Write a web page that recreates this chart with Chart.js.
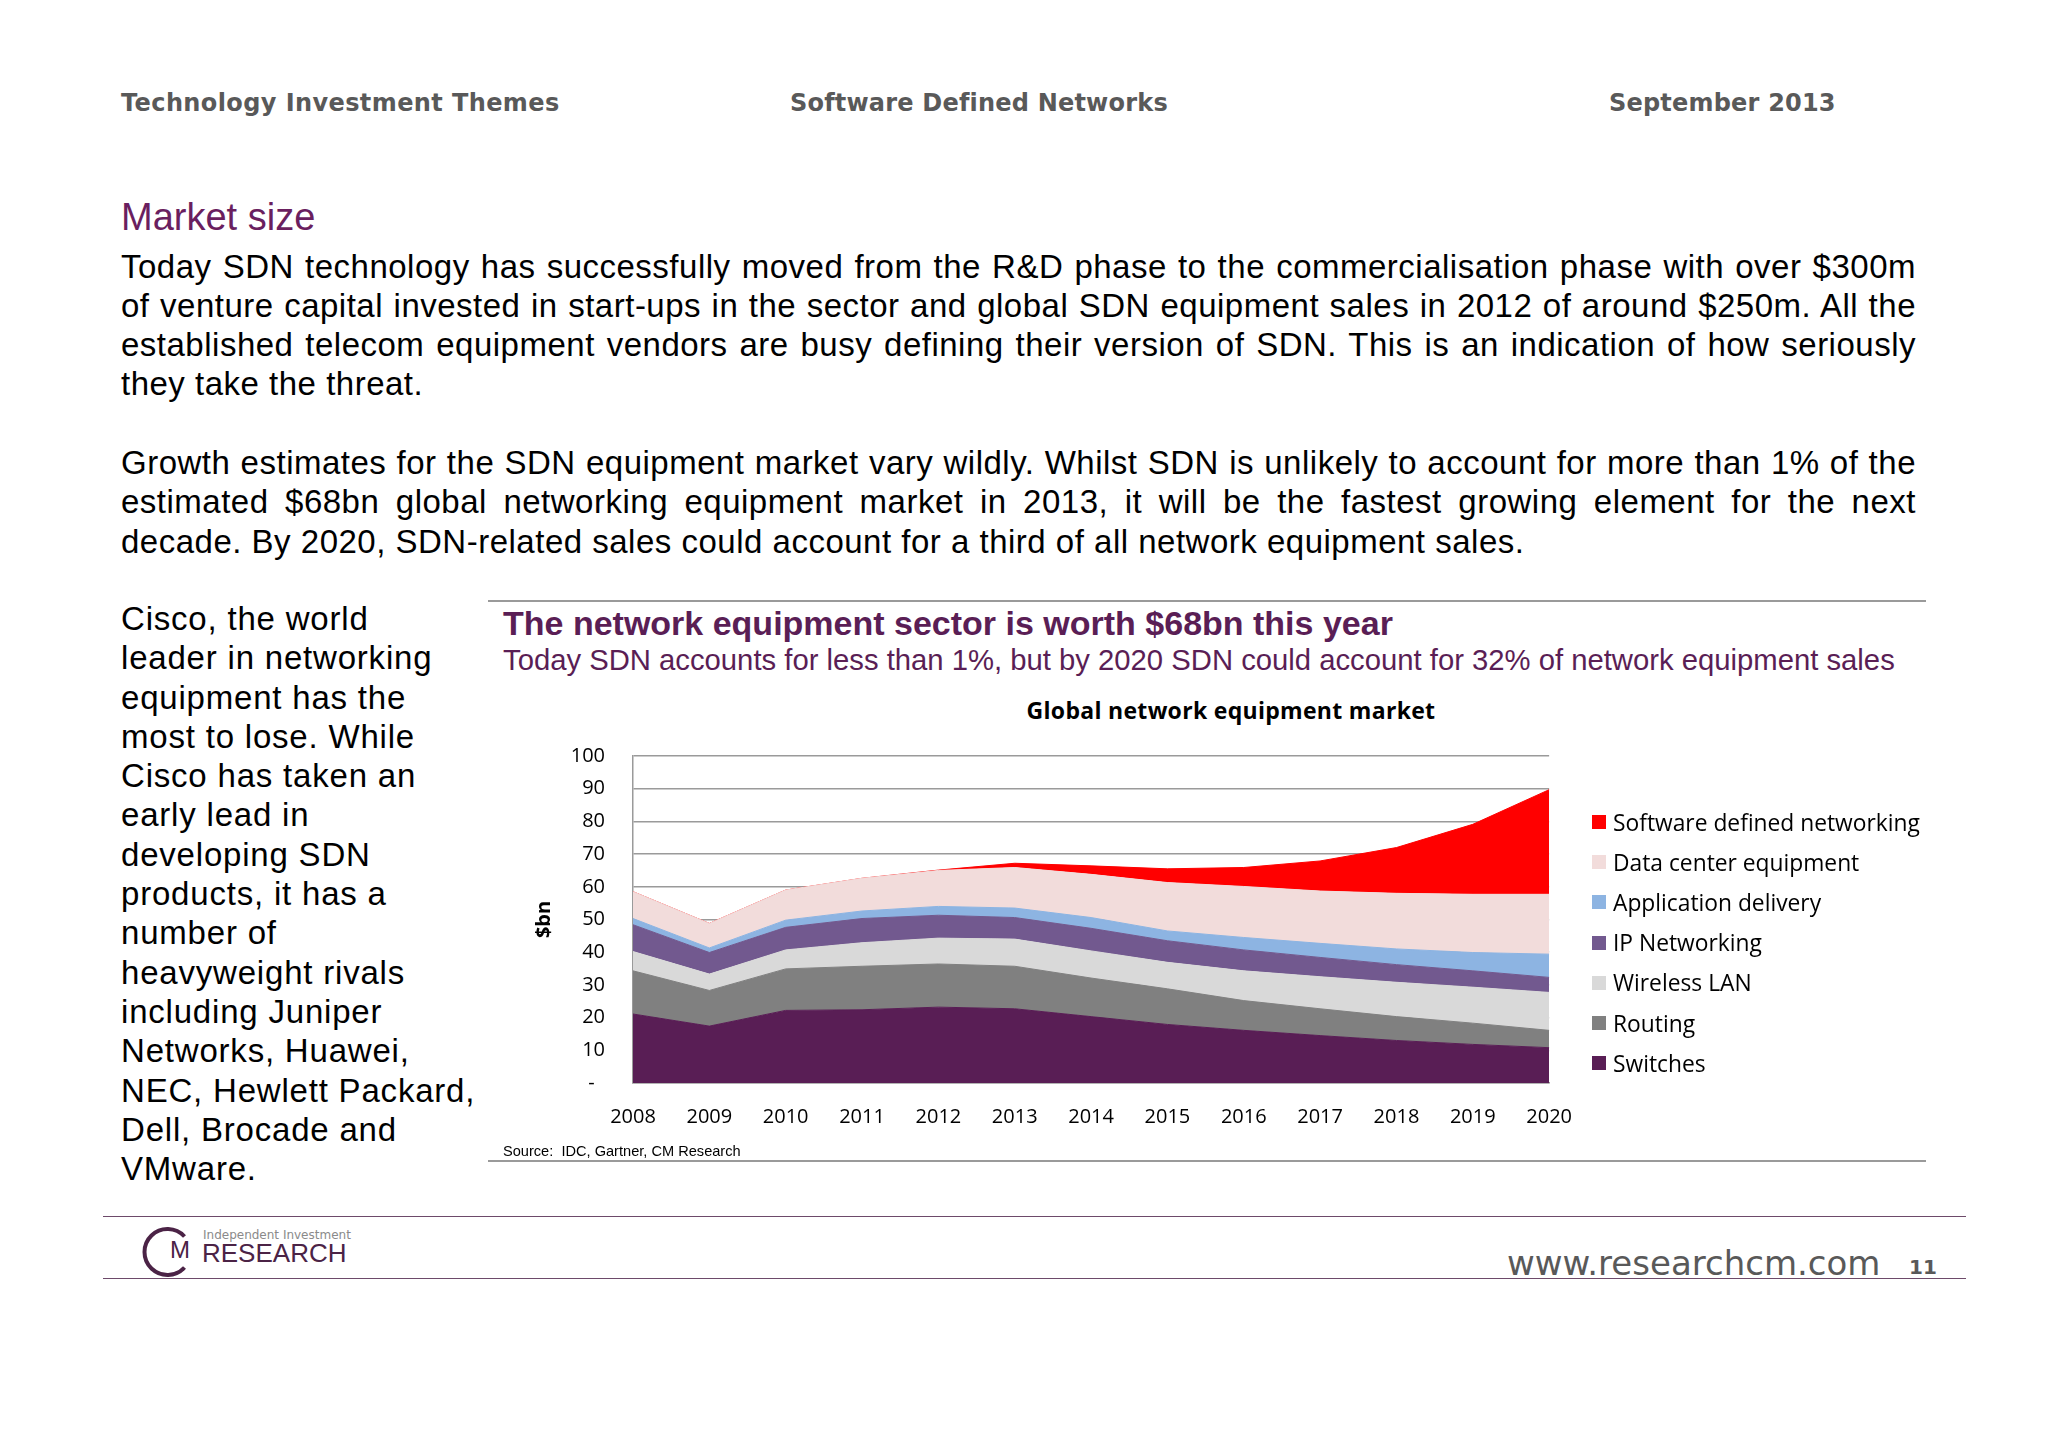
<!DOCTYPE html>
<html lang="en">
<head>
    <meta charset="UTF-8">
    <title>Software Defined Networks - Market size</title>
    <style>
        html, body {
            margin: 0;
            padding: 0;
            background: #ffffff;
        }
        body {
            position: relative;
            width: 2048px;
            height: 1448px;
            overflow: hidden;
            font-family: 'Liberation Sans', Arial, sans-serif;
            color: #000000;
        }
        .abs { position: absolute; white-space: nowrap; }
        .header {
            font-family: 'DejaVu Sans', Verdana, sans-serif;
            font-weight: bold;
            font-size: 24px;
            line-height: 28px;
            color: #595959;
            top: 89px;
        }
        .section {
            left: 121px;
            top: 198px;
            font-size: 38px;
            line-height: 38px;
            color: #6a1f5f;
        }
        .para {
            position: absolute;
            left: 121px;
            width: 1795px;
            font-size: 33px;
            line-height: 39.3px;
            letter-spacing: 0.5px;
        }
        .para div {
            text-align: justify;
            text-align-last: justify;
        }
        .para div.last {
            text-align: left;
            text-align-last: left;
        }
        .side {
            position: absolute;
            left: 121px;
            top: 599px;
            font-size: 33px;
            line-height: 39.3px;
            letter-spacing: 0.8px;
            white-space: nowrap;
        }
        .rule {
            position: absolute;
            height: 0;
        }
        .chart-title {
            left: 503px;
            top: 605px;
            font-size: 34px;
            line-height: 36px;
            font-weight: bold;
            color: #5a1e55;
        }
        .chart-sub {
            left: 503px;
            top: 643px;
            font-size: 29.25px;
            line-height: 34px;
            color: #5a1e55;
        }
        .inner-title {
            left: 1000px;
            width: 462px;
            top: 695px;
            text-align: center;
            font-family: 'Open Sans', sans-serif;
            font-weight: bold;
            font-size: 23px;
            line-height: 30px;
            letter-spacing: 0.3px;
            color: #000000;
        }
        #chartBox {
            position: absolute;
            left: 480px;
            top: 716px;
            width: 1114px;
            height: 434px;
        }
        #legend {
            position: absolute;
            left: 1592px;
            top: 802px;
            font-family: 'Open Sans', sans-serif;
            font-size: 22.8px;
            color: #000000;
        }
        #legend .item {
            display: flex;
            align-items: center;
            height: 40.2px;
            white-space: nowrap;
        }
        #legend .box {
            width: 14px;
            height: 14px;
            margin-right: 7px;
            flex: none;
        }
        .source {
            left: 503px;
            top: 1141px;
            font-size: 14.6px;
            line-height: 20px;
        }
        .web {
            left: 1507px;
            top: 1243px;
            font-family: 'DejaVu Sans', Verdana, sans-serif;
            font-size: 34px;
            line-height: 40px;
            color: #595959;
        }
        .page {
            left: 1909px;
            top: 1255px;
            font-family: 'DejaVu Sans', Verdana, sans-serif;
            font-weight: bold;
            font-size: 20px;
            line-height: 24px;
            color: #595959;
        }
    </style>
</head>
<body>
    <div class="abs header" style="left:121px; letter-spacing:0.4px;">Technology Investment Themes</div>
    <div class="abs header" style="left:790px; letter-spacing:0.2px;">Software Defined Networks</div>
    <div class="abs header" style="left:1609px; letter-spacing:0.2px;">September 2013</div>

    <div class="abs section">Market size</div>

    <div class="para" style="top:246.5px;">
        <div>Today SDN technology has successfully moved from the R&amp;D phase to the commercialisation phase with over $300m</div>
        <div>of venture capital invested in start-ups in the sector and global SDN equipment sales in 2012 of around $250m. All the</div>
        <div>established telecom equipment vendors are busy defining their version of SDN. This is an indication of how seriously</div>
        <div class="last">they take the threat.</div>
    </div>

    <div class="para" style="top:443px;">
        <div>Growth estimates for the SDN equipment market vary wildly. Whilst SDN is unlikely to account for more than 1% of the</div>
        <div>estimated $68bn global networking equipment market in 2013, it will be the fastest growing element for the next</div>
        <div class="last">decade. By 2020, SDN-related sales could account for a third of all network equipment sales.</div>
    </div>

    <div class="side">
        Cisco, the world<br>
        leader in networking<br>
        equipment has the<br>
        most to lose. While<br>
        Cisco has taken an<br>
        early lead in<br>
        developing SDN<br>
        products, it has a<br>
        number of<br>
        heavyweight rivals<br>
        including Juniper<br>
        Networks, Huawei,<br>
        NEC, Hewlett Packard,<br>
        Dell, Brocade and<br>
        VMware.
    </div>

    <!-- chart frame -->
    <div class="rule" style="left:488px; width:1438px; top:600px; border-top:2px solid #9a9a9a;"></div>
    <div class="abs chart-title">The network equipment sector is worth $68bn this year</div>
    <div class="abs chart-sub">Today SDN accounts for less than 1%, but by 2020 SDN could account for 32% of network equipment sales</div>
    <div class="abs inner-title">Global network equipment market</div>

    <div id="chartBox"><canvas id="marketChart" width="1114" height="434"></canvas></div>
    <div id="legend"></div>

    <div class="abs source">Source:&nbsp; IDC, Gartner, CM Research</div>
    <div class="rule" style="left:488px; width:1438px; top:1160px; border-top:2px solid #9a9a9a;"></div>

    <!-- footer -->
    <div class="rule" style="left:103px; width:1863px; top:1216px; border-top:1.5px solid #6d4a6a;"></div>
    <svg class="abs" style="left:135px; top:1220px;" width="70" height="64" viewBox="135 1220 70 64">
        <path d="M 184.5 1236.5 A 23 23 0 1 0 184.5 1267.5" fill="none" stroke="#4b2346" stroke-width="4"/>
    </svg>
    <div class="abs" style="left:170px; top:1236px; font-size:24px; line-height:28px; color:#4b2346;">M</div>
    <div class="abs" style="left:203px; top:1227px; font-family:'DejaVu Sans',sans-serif; font-size:12px; line-height:16px; color:#8a8a8a;">Independent Investment</div>
    <div class="abs" style="left:202px; top:1238px; font-size:26px; line-height:30px; color:#4b2346;">RESEARCH</div>
    <div class="abs web">www.researchcm.com</div>
    <div class="abs page">11</div>
    <div class="rule" style="left:103px; width:1863px; top:1278px; border-top:1.5px solid #6d4a6a;"></div>

    <script src="https://cdn.jsdelivr.net/npm/chart.js@4.4.3/dist/chart.umd.min.js"></script>
    <script>
        // Global network equipment market, $bn
        const years = ['2008', '2009', '2010', '2011', '2012', '2013', '2014', '2015', '2016', '2017', '2018', '2019', '2020'];
        const switches = [21.1, 17.4, 22.2, 22.4, 23.2, 22.7, 20.3, 17.9, 16.1, 14.5, 13.0, 11.8, 10.8];
        const routing = [13.2, 10.9, 12.7, 13.3, 13.2, 13.0, 11.8, 10.9, 9.1, 8.2, 7.3, 6.5, 5.3];
        const wirelessLan = [5.9, 5.0, 5.8, 7.2, 7.9, 8.3, 8.3, 8.1, 9.1, 9.8, 10.5, 11.0, 11.6];
        const ipNetworking = [8.2, 6.6, 6.9, 7.4, 7.0, 6.6, 6.9, 6.6, 6.4, 5.9, 5.4, 5.0, 4.6];
        const appDelivery = [1.9, 1.4, 2.2, 2.3, 2.7, 2.9, 3.3, 3.0, 3.8, 4.3, 4.8, 5.6, 7.1];
        const dataCenter = [8.2, 7.5, 9.2, 10.0, 11.0, 12.4, 13.2, 14.8, 15.6, 16.0, 17.0, 17.8, 18.3];
        const sdn = [0, 0, 0, 0, 0.1, 1.3, 2.6, 4.2, 5.8, 9.2, 14.0, 21.4, 32.0];
        const yTicks = [0, 10, 20, 30, 40, 50, 60, 70, 80, 90, 100];

        // bottom of the stack first
        const series = [
            { name: 'Switches', values: switches },
            { name: 'Routing', values: routing },
            { name: 'Wireless LAN', values: wirelessLan },
            { name: 'IP Networking', values: ipNetworking },
            { name: 'Application delivery', values: appDelivery },
            { name: 'Data center equipment', values: dataCenter },
            { name: 'Software defined networking', values: sdn }
        ];
        const colours = {
            'Switches': '#591e55',
            'Routing': '#808080',
            'Wireless LAN': '#d9d9d9',
            'IP Networking': '#72598f',
            'Application delivery': '#8db4e2',
            'Data center equipment': '#f2dcdb',
            'Software defined networking': '#ff0000'
        };

        const tickFont = { family: 'Open Sans', size: 20 };

        const chart = new Chart(document.getElementById('marketChart'), {
            type: 'line',
            data: {
                labels: years,
                datasets: series.map((s, i) => ({
                    label: s.name,
                    data: s.values,
                    backgroundColor: colours[s.name],
                    borderColor: colours[s.name],
                    borderWidth: 1,
                    pointRadius: 0,
                    pointHoverRadius: 0,
                    tension: 0,
                    fill: i === 0 ? 'origin' : '-1'
                }))
            },
            options: {
                responsive: false,
                animation: false,
                layout: { padding: { top: 11, right: 41, bottom: 0, left: 0 } },
                plugins: {
                    legend: { display: false },
                    tooltip: { enabled: false }
                },
                scales: {
                    x: {
                        offset: false,
                        grid: { display: false, drawTicks: false },
                        border: { display: true, color: '#9a9a9a', width: 1.5 },
                        ticks: {
                            font: tickFont,
                            color: '#000000',
                            padding: 22,
                            maxRotation: 0,
                            autoSkip: false
                        },
                        afterFit: (scale) => { scale.height = 67; }
                    },
                    y: {
                        stacked: true,
                        min: 0,
                        max: 100,
                        afterBuildTicks: (scale) => {
                            scale.ticks = yTicks.map(v => ({ value: v }));
                        },
                        grid: { color: '#9a9a9a', lineWidth: 1.5, drawTicks: false },
                        border: { display: true, color: '#9a9a9a', width: 1.5 },
                        ticks: {
                            font: tickFont,
                            color: '#000000',
                            padding: 28,
                            callback: (v) => v === 0 ? '-  ' : v
                        },
                        title: {
                            display: true,
                            text: '$bn',
                            color: '#000000',
                            font: { family: 'Open Sans', size: 20, weight: 'bold' },
                            padding: { top: 52, bottom: 0 }
                        },
                        afterFit: (scale) => { scale.width = 153; }
                    }
                }
            }
        });

        // legend, top of the stack first
        const legend = document.getElementById('legend');
        chart.data.datasets.slice().reverse().forEach(ds => {
            const item = document.createElement('div');
            item.className = 'item';
            const box = document.createElement('span');
            box.className = 'box';
            box.style.background = ds.backgroundColor;
            const txt = document.createElement('span');
            txt.textContent = ds.label;
            item.appendChild(box);
            item.appendChild(txt);
            legend.appendChild(item);
        });
    </script>
</body>
</html>
